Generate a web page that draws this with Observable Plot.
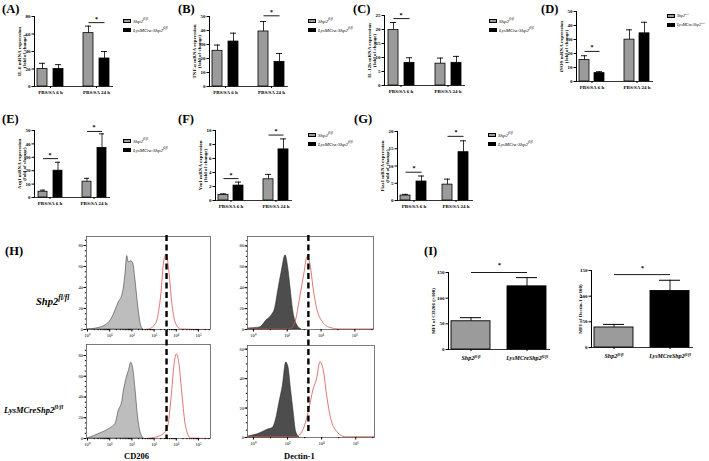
<!DOCTYPE html>
<html><head><meta charset="utf-8">
<script src="https://cdn.jsdelivr.net/npm/d3@7"></script>
<script src="https://cdn.jsdelivr.net/npm/@observablehq/plot@0.6"></script>
<style>
html,body{margin:0;padding:0;background:#fff;}
#fig{position:relative;width:709px;height:461px;overflow:hidden;font-family:"Liberation Serif","Times New Roman",serif;color:#000;}
.lab{position:absolute;font-weight:bold;white-space:nowrap;line-height:1;transform:translateY(-50%);}
.plet{font-size:12.5px;}
.leg{position:absolute;font-size:5px;font-style:italic;font-weight:normal;white-space:nowrap;line-height:1;transform:translateY(-50%);}
.sw{position:absolute;width:8px;height:4.5px;border:0.8px solid #000;box-sizing:border-box;}
sup{font-size:70%;line-height:0;vertical-align:super;}
</style></head><body><div id="fig"></div><script>
// ---------- data ----------
const groups = ["PBS/SA 6 h", "PBS/SA 24 h"];
const genotypes = ["Shp2", "LysMCre"];

// (A) IL-6
const il6Shp2 = [20, 61], il6Shp2Sem = [6.5, 8];
const il6Lysm = [20, 32], il6LysmSem = [5, 8];
const il6Sig = [{group: "PBS/SA 24 h", y: 73}];
// (B) TNF-α
const tnfShp2 = [25.5, 39.3], tnfShp2Sem = [4.1, 7.1];
const tnfLysm = [32.1, 17.6], tnfLysmSem = [6, 6];
const tnfSig = [{group: "PBS/SA 24 h", y: 50.5}];
// (C) IL-12b
const il12Shp2 = [19.8, 7.8], il12Shp2Sem = [2.7, 2];
const il12Lysm = [8.1, 8.1], il12LysmSem = [1.8, 2.3];
const il12Sig = [{group: "PBS/SA 6 h", y: 23.9}];
// (D) iNOS
const inosShp2 = [15.3, 29.9], inosShp2Sem = [3.1, 7];
const inosLysm = [6, 34.4], inosLysmSem = [1, 7.9];
const inosSig = [{group: "PBS/SA 6 h", y: 21.5}];
// (E) Arg1
const arg1Shp2 = [4.3, 11.8], arg1Shp2Sem = [1.2, 2.5];
const arg1Lysm = [20, 37], arg1LysmSem = [6.3, 10.5];
const arg1Sig = [{group: "PBS/SA 6 h", y: 29}, {group: "PBS/SA 24 h", y: 49.3}];
// (F) Ym1
const ym1Shp2 = [0.8, 3.03], ym1Shp2Sem = [0.15, 0.7];
const ym1Lysm = [2.13, 7.3], ym1LysmSem = [0.5, 1.5];
const ym1Sig = [{group: "PBS/SA 6 h", y: 3.13}, {group: "PBS/SA 24 h", y: 9.35}];
// (G) Fizz1
const fizzShp2 = [1.43, 4.6], fizzShp2Sem = [0.35, 1.6];
const fizzLysm = [5.5, 14], fizzLysmSem = [1.6, 3.3];
const fizzSig = [{group: "PBS/SA 6 h", y: 8.2}, {group: "PBS/SA 24 h", y: 18.6}];

// (H) flow histograms: [log10 intensity, count]
const cd206TopGray = [[0,0],[0.6,2],[1.04,8.6],[1.26,18],[1.41,26],[1.56,32],[1.64,40],[1.71,53],[1.79,70],[1.86,64],[1.97,65],[2.06,63],[2.16,47],[2.27,25],[2.39,6],[2.51,0]];
const cd206TopRed = [[2.4,0],[2.75,0.5],[3.07,6],[3.29,31],[3.44,66],[3.55,72],[3.66,56],[3.81,23],[3.96,6],[4.19,0.5],[5.5,0]];
const cd206BotGray = [[0,0],[0.59,5],[1.04,10],[1.26,14],[1.41,27],[1.56,35],[1.64,46],[1.76,58],[1.86,65],[1.97,73],[2.06,67],[2.16,48],[2.27,22],[2.39,6],[2.54,0]];
const cd206BotRed = [[2.5,0],[2.84,0.5],[3.29,3],[3.59,10],[3.77,41],[3.89,70],[4.0,81.6],[4.11,73.5],[4.26,41],[4.41,12.5],[4.64,0.5],[5.5,0]];
const dectinTopGray = [[-0.3,1],[0.39,2],[0.79,9],[1.08,13.5],[1.28,20],[1.47,37.5],[1.67,55],[1.9,71],[2.05,60],[2.19,40.7],[2.35,18],[2.55,5.4],[2.84,0]];
const dectinTopRed = [[-0.35,0.5],[2.15,0.5],[2.45,7],[2.74,31],[2.98,53.5],[3.17,69.7],[3.37,60],[3.52,40.7],[3.72,21.5],[4.02,8.7],[4.51,2],[5.1,0.5],[7.1,0.5]];
const dectinBotGray = [[-0.3,0.7],[0.42,3],[0.82,5.3],[1.12,6.4],[1.32,12],[1.52,23.6],[1.72,35],[1.92,51],[2.05,48],[2.2,33],[2.36,17],[2.5,4],[2.7,0]];
const dectinBotRed = [[-0.35,0.5],[2.5,0.5],[2.9,5.3],[3.2,16.8],[3.5,33],[3.7,40],[3.9,51.5],[4.1,45.5],[4.3,28],[4.5,14.5],[4.8,5.3],[5.4,0.5],[7.1,0.5]];
const cd206Gate = 3.56, dectinGate = 3.25;

// (I) MFI
const mfiCd206 = [55, 123], mfiCd206Sem = [7, 17];
const mfiDectin = [39, 110], mfiDectinSem = [6, 21];
const mfiCd206Sig = {y: 150}, mfiDectinSig = {y: 142};

// ---------- helpers ----------
const fig = document.getElementById("fig");
function place(el, left, top) {
  el.style.position = "absolute"; el.style.left = left + "px"; el.style.top = top + "px";
  fig.appendChild(el); return el;
}
function html(cls, h, left, top, extra) {
  const d = document.createElement("div"); d.className = cls; d.innerHTML = h;
  if (extra) Object.assign(d.style, extra);
  return place(d, left, top);
}
const baseStyle = {fontFamily: "Liberation Serif, serif", fontWeight: "bold", fontSize: "5px", background: "transparent", overflow: "visible", color: "#000"};
const supDigits = n => String(n).split("").map(c => "⁰¹²³⁴⁵⁶⁷⁸⁹"[+c]).join("");
function supify(svg) {
  svg.querySelectorAll("text, tspan").forEach(el => {
    if (el.children.length) return;
    const t = el.textContent, i = t.indexOf("^");
    if (i < 0) return;
    el.textContent = t.slice(0, i);
    const s = document.createElementNS("http://www.w3.org/2000/svg", "tspan");
    s.setAttribute("dy", "-0.45em"); s.setAttribute("font-size", "70%");
    s.textContent = t.slice(i + 1);
    el.appendChild(s);
    el.setAttribute("font-style", "italic");
  });
}

function barPanel(cfg) {
  const rows = [];
  groups.forEach((g, i) => {
    rows.push({group: g, geno: "Shp2", mean: cfg.shp2[i], top: cfg.shp2[i] + cfg.shp2Sem[i]});
    rows.push({group: g, geno: "LysMCre", mean: cfg.lysm[i], top: cfg.lysm[i] + cfg.lysmSem[i]});
  });
  const [L, R, T, B] = cfg.frame;
  const left = L - 30, top = T - 12;
  const chart = Plot.plot({
    width: R - left + 2, height: B - top + 14,
    marginLeft: L - left, marginRight: 2, marginTop: T - top, marginBottom: 14,
    style: baseStyle,
    fx: {domain: groups, label: null, axis: "bottom", paddingInner: cfg.fxPad ?? 0.3, paddingOuter: 0.1, tickSize: 2, tickPadding: 1.5},
    x: {domain: genotypes, axis: null, paddingInner: cfg.xPad ?? 0.4, paddingOuter: 0.18},
    y: {domain: [0, cfg.ymax], ticks: cfg.ticks, line: true, tickSize: 2.5, tickPadding: 1.5,
        label: cfg.ylabel, labelAnchor: "center", labelOffset: cfg.labelOffset ?? 17, labelArrow: "none"},
    marks: [
      Plot.ruleX(rows, {fx: "group", x: "geno", y1: "mean", y2: "top", strokeWidth: 0.8}),
      Plot.tickY(rows, {fx: "group", x: "geno", y: "top", insetLeft: 2, insetRight: 2, strokeWidth: 0.9}),
      Plot.barY(rows, {fx: "group", x: "geno", y: "mean", fill: d => d.geno === "Shp2" ? "#9b9b9b" : "#000", stroke: "#000", strokeWidth: 0.8}),
      Plot.frame({anchor: "bottom", facet: "super", strokeWidth: 0.8}),
      Plot.link(cfg.sig, {fx: "group", x1: () => "Shp2", x2: () => "LysMCre", y1: "y", y2: "y", strokeWidth: 0.9}),
      Plot.text(cfg.sig, {fx: "group", y: "y", text: () => "*", dy: -4, fontSize: 6})
    ]
  });
  place(chart, left, top);
  // legend
  const [lx, ly] = cfg.legend;
  const fs = (cfg.legendFont ?? 5) + "px";
  html("sw", "", lx, ly - 2.25, {background: "#9b9b9b"});
  html("sw", "", lx, ly + 6.75, {background: "#000"});
  html("leg", "Shp2<sup>fl/fl</sup>", lx + 10, ly, {fontSize: fs});
  html("leg", "LysMCre:Shp2<sup>fl/fl</sup>", lx + 10, ly + 9, {fontSize: fs});
  html("lab plet", cfg.letter, cfg.letterPos[0], cfg.letterPos[1]);
}

function histPanel(cfg) {
  const [L, R, T, B] = cfg.frame;
  const left = L - 14, top = T - 3;
  const chart = Plot.plot({
    width: R - left + 2, height: B - top + 11,
    marginLeft: L - left, marginRight: 2, marginTop: T - top, marginBottom: 11,
    style: {...baseStyle, fontSize: "4.5px", fontWeight: "normal"},
    x: {type: "log", domain: cfg.xdomain},
    y: {domain: [0, cfg.ymax]},
    marks: [
      Plot.areaY(cfg.gray, {x: d => 10 ** d[0], y: d => d[1], fill: cfg.grayFill, stroke: "#222", strokeWidth: 0.5, curve: "monotone-x"}),
      Plot.lineY(cfg.red, {x: d => 10 ** d[0], y: d => d[1], stroke: "#d9534f", strokeWidth: 0.8, curve: "monotone-x"}),
      Plot.frame({stroke: "#444", strokeWidth: 0.7}),
      Plot.axisY({ticks: cfg.yticks, tickSize: 2.5, tickPadding: 1, label: null}),
      Plot.axisY({ticks: cfg.yminor, tickSize: 1.2, tickFormat: () => "", label: null}),
      Plot.axisX({ticks: cfg.xticks, tickSize: 2.5, tickPadding: 1.5, label: null,
                  tickFormat: d => "10" + supDigits(Math.round(Math.log10(d)))}),
      Plot.axisX({ticks: cfg.xminor, tickSize: 1.2, tickFormat: () => "", label: null}),
      cfg.gate != null ? Plot.ruleX([10 ** cfg.gate], {stroke: "#000", strokeWidth: 2.4, strokeDasharray: "6,3.5", insetBottom: -(cfg.gapBelow || 0), insetTop: -1}) : null
    ]
  });
  place(chart, left, top);
}

function mfiPanel(cfg) {
  const rows = genotypes.map((g, i) => ({geno: g, mean: cfg.means[i], top: cfg.means[i] + cfg.sems[i]}));
  const [L, R, T, B] = cfg.frame;
  const left = L - 22, top = T - 14;
  const chart = Plot.plot({
    width: R - left + 4, height: B - top + 16,
    marginLeft: L - left, marginRight: 4, marginTop: T - top, marginBottom: 16,
    style: baseStyle,
    x: {domain: genotypes, paddingInner: 0.3, paddingOuter: 0.06, tickSize: 2, tickPadding: 4, label: null,
        tickFormat: g => g === "Shp2" ? "Shp2^fl/fl" : "LysMCreShp2^fl/fl"},
    y: {domain: [0, 150], ticks: [0, 50, 100, 150], line: true, tickSize: 2.5, tickPadding: 1.5,
        label: cfg.ylabel, labelAnchor: "center", labelOffset: cfg.labelOffset, labelArrow: "none"},
    marks: [
      Plot.ruleX(rows, {x: "geno", y1: "mean", y2: "top", strokeWidth: 0.9}),
      Plot.tickY(rows, {x: "geno", y: "top", insetLeft: 9, insetRight: 9, strokeWidth: 1}),
      Plot.barY(rows, {x: "geno", y: "mean", fill: d => d.geno === "Shp2" ? "#9b9b9b" : "#000", stroke: "#000", strokeWidth: 0.9}),
      Plot.ruleY([0], {strokeWidth: 0.8}),
      Plot.link([cfg.sig], {x1: () => "Shp2", x2: () => "LysMCre", y1: "y", y2: "y", strokeWidth: 0.9}),
      Plot.text([cfg.sig], {y: "y", text: () => "*", dy: -7, fontSize: 6})
    ]
  });
  chart.querySelectorAll("g[aria-label='x-axis tick label'] text").forEach(t => t.setAttribute("font-size", "6"));
  supify(chart);
  place(chart, left, top);
}

// ---------- panels A–G ----------
barPanel({letter: "(A)", letterPos: [2, 9], frame: [29, 117, 16, 86], ymax: 80, ticks: [0, 20, 40, 60, 80],
  ylabel: "IL-6 mRNA expression\n(fold of change)", shp2: il6Shp2, shp2Sem: il6Shp2Sem, lysm: il6Lysm, lysmSem: il6LysmSem,
  sig: il6Sig, legend: [123, 21]});
barPanel({letter: "(B)", letterPos: [178, 9], frame: [204, 292, 16, 86], ymax: 50, ticks: [0, 10, 20, 30, 40, 50],
  ylabel: "TNF-α mRNA expression\n(fold of change)", shp2: tnfShp2, shp2Sem: tnfShp2Sem, lysm: tnfLysm, lysmSem: tnfLysmSem,
  sig: tnfSig, legend: [308, 21]});
barPanel({letter: "(C)", letterPos: [353, 9], frame: [378, 469, 15, 85], ymax: 25, ticks: [0, 5, 10, 15, 20, 25],
  ylabel: "IL-12b mRNA expression\n(fold of change)", shp2: il12Shp2, shp2Sem: il12Shp2Sem, lysm: il12Lysm, lysmSem: il12LysmSem,
  sig: il12Sig, legend: [489, 21]});
barPanel({letter: "(D)", letterPos: [541, 9], frame: [571, 658, 11, 81], ymax: 50, ticks: [0, 10, 20, 30, 40, 50],
  ylabel: "iNOS mRNA expression\n(fold of change)", shp2: inosShp2, shp2Sem: inosShp2Sem, lysm: inosLysm, lysmSem: inosLysmSem,
  sig: inosSig, legend: [667, 16], xPad: 0.33, legendFont: 4});
barPanel({letter: "(E)", letterPos: [2, 119], frame: [29, 113, 130, 197], ymax: 50, ticks: [0, 10, 20, 30, 40, 50],
  ylabel: "Arg1 mRNA expression\n(fold of change)", shp2: arg1Shp2, shp2Sem: arg1Shp2Sem, lysm: arg1Lysm, lysmSem: arg1LysmSem,
  sig: arg1Sig, legend: [123, 141]});
barPanel({letter: "(F)", letterPos: [178, 119], frame: [210, 297, 130, 200], ymax: 10, ticks: [0, 2, 4, 6, 8, 10],
  ylabel: "Ym1 mRNA expression\n(fold of change)", shp2: ym1Shp2, shp2Sem: ym1Shp2Sem, lysm: ym1Lysm, lysmSem: ym1LysmSem,
  sig: ym1Sig, legend: [308, 135], xPad: 0.35});
barPanel({letter: "(G)", letterPos: [354, 119], frame: [392, 477, 131, 200], ymax: 20, ticks: [0, 5, 10, 15, 20],
  ylabel: "Fizz1 mRNA expression\n(fold of change)", shp2: fizzShp2, shp2Sem: fizzShp2Sem, lysm: fizzLysm, lysmSem: fizzLysmSem,
  sig: fizzSig, legend: [488, 135], xPad: 0.35, fxPad: 0.22});

// ---------- panel H ----------
const cdTicks = [0, 1, 2, 3, 4, 5].map(e => 10 ** e);
const cdMinor = d3.range(0, 6).flatMap(e => d3.range(2, 10).map(k => k * 10 ** e)).filter(v => v < 10 ** 5.54);
const deTicks = [0, 2, 4, 6].map(e => 10 ** e);
const deMinor = [1, 3, 5, 7].map(e => 10 ** e).filter(v => v < 10 ** 7.1);
histPanel({frame: [86, 210, 344, 438], xdomain: [10 ** -0.045, 10 ** 5.54], ymax: 90.6, yticks: [0, 20, 40, 60, 80], yminor: d3.range(0, 90, 5),
  xticks: cdTicks, xminor: cdMinor, gray: cd206BotGray, red: cd206BotRed, grayFill: "#bdbdbd"});
histPanel({frame: [247, 374, 345, 437], xdomain: [10 ** -0.35, 10 ** 7.1], ymax: 62.5, yticks: [0, 20, 40, 60], yminor: d3.range(0, 62, 5),
  xticks: deTicks, xminor: deMinor, gray: dectinBotGray, red: dectinBotRed, grayFill: "#4d4d4d"});
histPanel({frame: [86, 210, 236, 329], xdomain: [10 ** -0.045, 10 ** 5.54], ymax: 88.6, yticks: [0, 20, 40, 60, 80], yminor: d3.range(0, 88, 5),
  xticks: cdTicks, xminor: cdMinor, gray: cd206TopGray, red: cd206TopRed, grayFill: "#bdbdbd", gate: cd206Gate, gapBelow: 110});
histPanel({frame: [247, 373, 236, 329], xdomain: [10 ** -0.35, 10 ** 7.1], ymax: 89, yticks: [0, 20, 40, 60, 80], yminor: d3.range(0, 88, 5),
  xticks: deTicks, xminor: deMinor, gray: dectinTopGray, red: dectinTopRed, grayFill: "#4d4d4d", gate: dectinGate, gapBelow: 104});

html("lab plet", "(H)", 5, 251);
html("lab", "Shp2<sup>fl/fl</sup>", 36, 302, {fontSize: "10.5px", fontStyle: "italic"});
html("lab", "LysMCreShp2<sup>fl/fl</sup>", 4, 410, {fontSize: "8.5px", fontStyle: "italic"});
html("lab", "CD206", 124, 456, {fontSize: "8.5px"});
html("lab", "Dectin-1", 284, 456, {fontSize: "8.5px"});

// ---------- panel I ----------
html("lab plet", "(I)", 424, 251);
mfiPanel({frame: [448, 550, 272, 349], means: mfiCd206, sems: mfiCd206Sem, sig: mfiCd206Sig,
  ylabel: "MFI of CD206 (×100)", labelOffset: 17});
mfiPanel({frame: [591, 693, 270, 347], means: mfiDectin, sems: mfiDectinSem, sig: mfiDectinSig,
  ylabel: "MFI of Dectin-1 (×100)", labelOffset: 13});
</script></body></html>
